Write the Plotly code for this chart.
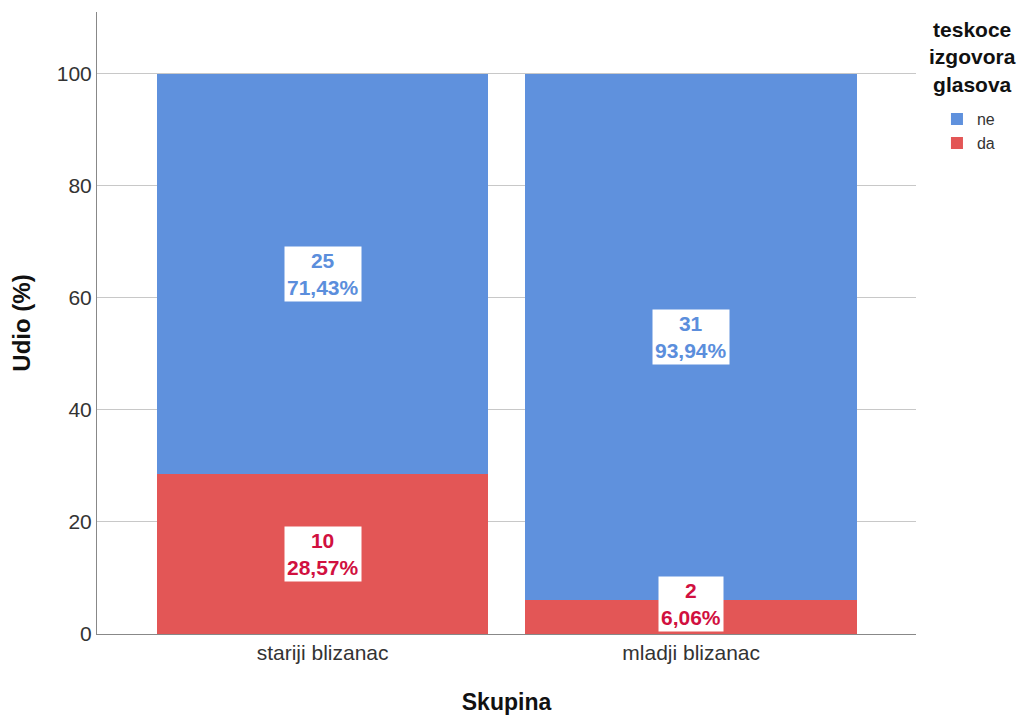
import plotly.graph_objects as go

categories = ["stariji blizanac", "mladji blizanac"]
counts_da = [10, 2]
counts_ne = [25, 31]
legend_title_lines = ["teskoce", "izgovora", "glasova"]
x_title = "Skupina"
y_title = "Udio (%)"

colors = {"da": "#e35656", "ne": "#5f91dd"}
label_colors = {"da": "#d1103f", "ne": "#5b8edc"}
FONT = "Arial, Liberation Sans, sans-serif"

totals = [a + b for a, b in zip(counts_da, counts_ne)]
pct_da = [100 * c / t for c, t in zip(counts_da, totals)]
pct_ne = [100 * c / t for c, t in zip(counts_ne, totals)]

fig = go.Figure()
fig.add_trace(go.Bar(name="da", x=categories, y=pct_da, marker=dict(color=colors["da"], line=dict(width=0))))
fig.add_trace(go.Bar(name="ne", x=categories, y=pct_ne, marker=dict(color=colors["ne"], line=dict(width=0))))

def fmt(v):
    return f"{v:.2f}".replace(".", ",") + "%"

annotations = []
for i, cat in enumerate(categories):
    base = 0
    for name, cnts, pcts in (("da", counts_da, pct_da), ("ne", counts_ne, pct_ne)):
        mid = base + pcts[i] / 2
        ann = dict(x=cat, xref="x", yref="y",
                   text=f"<b>{cnts[i]}<br>{fmt(pcts[i])}</b>",
                   showarrow=False, bgcolor="white", borderpad=2,
                   font=dict(family=FONT, size=21, color=label_colors[name]))
        if mid < 8:
            ann.update(y=0, yanchor="bottom", yshift=2)
        else:
            ann.update(y=mid, yanchor="middle")
        annotations.append(ann)
        base += pcts[i]

# legend title as a centred multi-line annotation
annotations.append(dict(text="<b>" + "<br>".join(legend_title_lines) + "</b>",
                        xref="paper", yref="paper",
                        x=1.0684, y=0.9277, xanchor="center", yanchor="middle",
                        align="center", showarrow=False,
                        font=dict(family=FONT, size=21, color="#111111")))

fig.update_layout(
    barmode="stack",
    bargap=0.1,
    width=1029, height=715,
    margin=dict(l=89, r=121, t=4, b=89),
    plot_bgcolor="white", paper_bgcolor="white",
    font=dict(family=FONT, color="#333333"),
    annotations=annotations,
    legend=dict(
        x=1.0256, xanchor="left", y=0.855, yanchor="top",
        font=dict(family=FONT, size=16, color="#333333"),
        itemwidth=30, tracegroupgap=0, traceorder="reversed",
    ),
    xaxis=dict(
        range=[-0.612, 1.61],
        title=dict(text=f"<b>{x_title}</b>", font=dict(family=FONT, size=23, color="#111111"), standoff=30),
        tickfont=dict(family=FONT, size=21, color="#333333"),
        showline=True, linecolor="#888888", linewidth=1,
        showgrid=False, ticks="",
    ),
    yaxis=dict(
        range=[0, 111],
        tickvals=[0, 20, 40, 60, 80, 100],
        title=dict(text=f"<b>{y_title}</b>", font=dict(family=FONT, size=24, color="#111111"), standoff=20),
        tickfont=dict(family=FONT, size=21, color="#333333"),
        showline=True, linecolor="#888888", linewidth=1,
        showgrid=True, gridcolor="#c8c8c8", gridwidth=1,
        zeroline=False, ticks="",
    ),
)

fig.write_html("out.html")
